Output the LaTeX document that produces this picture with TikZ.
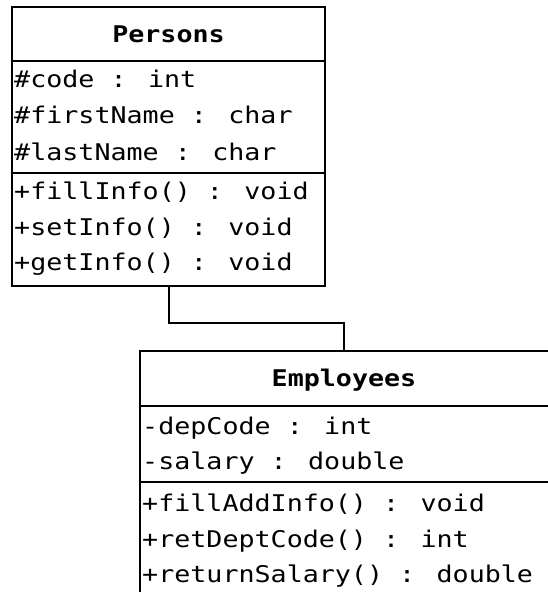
\documentclass[tikz,border=0pt]{standalone}
\usepackage{fontspec}
\newfontfamily\umlfont[FakeStretch=1.16]{DejaVu Sans Mono}
\tikzset{
  boxline/.style={draw=black, line width=2pt},
  sepline/.style={draw=black, line width=1.8pt},
  conn/.style={draw=black, line width=1.2pt},
  member/.style={anchor=base west, inner sep=0pt, font=\umlfont\fontsize{23}{27}\selectfont},
  title/.style={anchor=base, inner sep=0pt, font=\umlfont\bfseries\fontsize{23}{27}\selectfont}
}
\begin{document}
\begin{tikzpicture}[x=1pt,y=-1pt]
\useasboundingbox (0,0) rectangle (548,592);
\clip (0,0) rectangle (548,592);
% Persons class
\draw[boxline] (12,7) rectangle (325,286);
\draw[sepline] (12,61) -- (325,61);
\draw[sepline] (12,173) -- (325,173);
\node[title] (ptitle) at (168.5,42) {Persons};
\node[member] (pa1) at (14,87) {\#code : int};
\node[member] (pa2) at (14,123.5) {\#firstName : char};
\node[member] (pa3) at (14,160) {\#lastName : char};
\node[member] (pm1) at (14,199) {+fillInfo() : void};
\node[member] (pm2) at (14,235) {+setInfo() : void};
\node[member] (pm3) at (14,270) {+getInfo() : void};
\coordinate (pbot) at (169,286);
% Employees class
\draw[boxline] (140,351) rectangle (549.5,594);
\draw[sepline] (140,406) -- (549,406);
\draw[sepline] (140,482) -- (549,482);
\node[title] (etitle) at (344,386) {Employees};
\node[member] (ea1) at (142,434) {-depCode : int};
\node[member] (ea2) at (142,469) {-salary : double};
\node[member] (em1) at (142,511) {+fillAddInfo() : void};
\node[member] (em2) at (142,547) {+retDeptCode() : int};
\node[member] (em3) at (142,582) {+returnSalary() : double};
\coordinate (etop) at (344,351);
% connector
\draw[conn] (pbot) -- (169,323) -- (344,323) -- (etop);
\end{tikzpicture}
\end{document}
